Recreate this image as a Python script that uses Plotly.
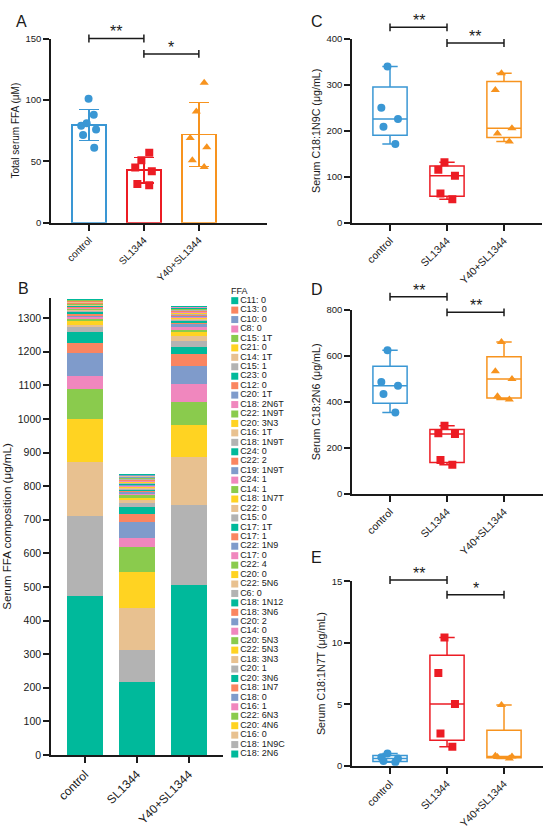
#!/usr/bin/env python3
"""Serum free fatty acid panels (A-E) rebuilt with Plotly."""

import numpy as np
import plotly.graph_objects as go

W, H = 550, 829
FONT = "Liberation Sans, Arial, sans-serif"
INK = "#1a1a1a"

# ---------------------------------------------------------------------------
# Data
# ---------------------------------------------------------------------------

groups = ["control", "SL1344", "Y40+SL1344"]
group_colors = ["#3A97D4", "#EC1C24", "#F7931E"]
group_symbols = ["circle", "square", "triangle-up"]

# A: total serum FFA (uM), one list per group
total_ffa = [
    [101, 88, 81, 76, 79, 71.5, 61],
    [57, 51, 45, 42, 31.5, 30.5],
    [114, 90.5, 69, 61.5, 51, 45.5],
]

# C, D, E: single fatty acids (ug/mL)
c18_1n9c = [
    [340, 250, 225.6, 209, 171.5],
    [131.7, 115.3, 102.5, 64, 51],
    [325, 289, 205.7, 194, 177],
]
c18_2n6 = [
    [624, 486, 470, 434, 354],
    [296, 263, 260, 147, 126],
    [660, 533, 499, 424, 410],
]
c18_1n7t = [
    [1.0, 0.7, 0.6, 0.4, 0.3],
    [10.43, 7.55, 5.02, 2.62, 1.55],
    [4.95, 0.82, 0.76, 0.72, 0.6],
]

# B: composition, listed from the bottom of the stack to the top
ffa_names = [
    "C18: 2N6", "C18: 1N9C", "C16: 0", "C20: 4N6", "C22: 6N3", "C16: 1",
    "C18: 0", "C18: 1N7", "C20: 3N6", "C20: 1", "C18: 3N3", "C22: 5N3",
    "C20: 5N3", "C14: 0", "C20: 2", "C18: 3N6", "C18: 1N12", "C6: 0",
    "C22: 5N6", "C20: 0", "C22: 4", "C17: 0", "C22: 1N9", "C17: 1",
    "C17: 1T", "C15: 0", "C22: 0", "C18: 1N7T", "C14: 1", "C24: 1",
    "C19: 1N9T", "C22: 2", "C24: 0", "C18: 1N9T", "C16: 1T", "C20: 3N3",
    "C22: 1N9T", "C18: 2N6T", "C20: 1T", "C12: 0", "C23: 0", "C15: 1",
    "C14: 1T", "C21: 0", "C15: 1T", "C8: 0", "C10: 0", "C13: 0", "C11: 0",
]
ffa_control = [
    472, 240, 160, 128, 90, 38, 68, 30, 32, 14, 8, 10, 7, 6, 6, 5, 5,
    2.5, 3, 2.5, 2, 2.5, 1.5, 1.5, 2, 1.8, 1.5, 1.6, 0.8, 1.2, 1.0, 0.8,
    1.0, 1.5, 0.7, 0.6, 0.6, 0.8, 0.6, 0.7, 0.6, 0.5, 0.5, 0.4, 0.5, 0.6,
    0.5, 0.3, 0.4,
]
ffa_sl1344 = [
    218, 94, 125, 108, 73, 27, 49, 22, 22, 12, 8, 7, 9, 5, 4, 3, 3,
    3, 3.5, 2.5, 2.5, 2, 2, 1.5, 2, 2, 1.8, 2, 1.2, 1.5, 1.2, 1.3,
    1.2, 2, 1, 1, 1, 1.2, 1, 1, 1, 0.8, 0.8, 0.6, 0.8, 0.8,
    0.6, 0.5, 0.6,
]
ffa_y40 = [
    506, 238, 144, 95, 68, 53, 53, 36, 22, 18, 13, 13, 6, 8, 8, 6, 5,
    3, 3, 2.5, 2.5, 2.5, 2, 2, 2, 2, 1.8, 1.8, 1.2, 1.5, 1.2, 1.2,
    1.2, 1.8, 0.8, 0.8, 0.8, 1, 0.8, 0.8, 0.7, 0.6, 0.6, 0.5, 0.6, 0.7,
    0.5, 0.4, 0.5,
]
ffa_palette = ["#00B99B", "#FA8561", "#7F9BCB", "#F087BE",
               "#8ACB4D", "#FFD322", "#E8C190", "#B3B3B3"]

# significance brackets: (from group, to group, level, stars)
sig_a = [(0, 1, 150, "**"), (1, 2, 137.5, "*")]
sig_c = [(0, 1, 425, "**"), (1, 2, 391, "**")]
sig_d = [(0, 1, 857, "**"), (1, 2, 789, "**")]
sig_e = [(0, 1, 15.1, "**"), (1, 2, 13.9, "*")]


# ---------------------------------------------------------------------------
# Helpers
# ---------------------------------------------------------------------------

def px_x(p):
    return p / W


def px_y(p):
    return 1 - p / H


def level_to_paper(level, ydom, yrange):
    frac = (level - yrange[0]) / (yrange[1] - yrange[0])
    return ydom[0] + frac * (ydom[1] - ydom[0])


def cat_axis(domain, xrange, anchor, size=10.5):
    return dict(
        domain=domain, range=xrange, anchor=anchor, type="category",
        showline=True, linecolor=INK, linewidth=1.5, mirror=False,
        ticks="outside", ticklen=6, tickwidth=1.5, tickcolor=INK,
        tickangle=-45, tickfont=dict(size=size, color=INK),
        showgrid=False, zeroline=False,
    )


def val_axis(domain, yrange, anchor, dtick, title, size=9.5, tsize=10.7):
    return dict(
        domain=domain, range=yrange, anchor=anchor, dtick=dtick,
        showline=True, linecolor=INK, linewidth=1.5,
        ticks="outside", ticklen=6, tickwidth=1.5, tickcolor=INK,
        tickfont=dict(size=size, color=INK),
        title=dict(text=title, font=dict(size=tsize, color=INK), standoff=4),
        showgrid=False, zeroline=False,
    )


fig = go.Figure()
shapes, annotations = [], []


def add_brackets(sig, xref, ydom, yrange):
    for a, b, level, stars in sig:
        yp = level_to_paper(level, ydom, yrange)
        line = dict(color=INK, width=1.5)
        shapes.append(dict(type="line", xref=xref, yref="paper",
                           x0=a, x1=b, y0=yp, y1=yp, line=line))
        for xe in (a, b):
            shapes.append(dict(type="line", xref=xref, yref="paper",
                               x0=xe, x1=xe, y0=yp - 4 / H, y1=yp + 4 / H,
                               line=line))
        annotations.append(dict(x=(a + b) / 2, xref=xref, y=yp - 4 / H,
                                yref="paper", yanchor="bottom", text=stars,
                                showarrow=False,
                                font=dict(size=16, color=INK)))


def add_boxes(data, xa, ya):
    for g, c, s, vals in zip(groups, group_colors, group_symbols, data):
        fig.add_trace(go.Box(
            x=[g] * len(vals), y=vals, xaxis=xa, yaxis=ya,
            boxpoints="all", jitter=0.6, pointpos=0, width=0.6,
            whiskerwidth=0.45, quartilemethod="exclusive",
            fillcolor="white", line=dict(color=c, width=1.5),
            marker=dict(color=c, symbol=s, size=8),
        ))


# ---------------------------------------------------------------------------
# Panel geometry (pixels in the 550x829 page)
# ---------------------------------------------------------------------------

dom = {
    "A": ([px_x(51), px_x(267)], [px_y(220), px_y(33)]),
    "B": ([px_x(51), px_x(222.5)], [px_y(760), px_y(296.2)]),
    "C": ([px_x(352), px_x(542)], [px_y(220), px_y(33.3)]),
    "D": ([px_x(352), px_x(543)], [px_y(495), px_y(308.3)]),
    "E": ([px_x(352), px_x(543)], [px_y(771), px_y(583.7)]),
}
rng_a, rng_b, rng_c, rng_d, rng_e = [0, 150], [0, 1360], [0, 400], [0, 800], [0, 15]

# ---- A: mean +/- SD bars with points ----
for g, c, s, vals in zip(groups, group_colors, group_symbols, total_ffa):
    arr = np.array(vals, dtype=float)
    fig.add_trace(go.Bar(
        x=[g], y=[arr.mean()], width=0.62, xaxis="x", yaxis="y",
        marker=dict(color="white", line=dict(color=c, width=1.5)),
        error_y=dict(type="data", array=[arr.std(ddof=1)], color=c,
                     thickness=1.5, width=10),
    ))
for g, c, s, vals in zip(groups, group_colors, group_symbols, total_ffa):
    fig.add_trace(go.Box(
        x=[g] * len(vals), y=vals, xaxis="x", yaxis="y",
        boxpoints="all", jitter=0.6, pointpos=0, width=0.62,
        fillcolor="rgba(0,0,0,0)",
        line=dict(width=0, color="rgba(0,0,0,0)"),
        marker=dict(color=c, symbol=s, size=8),
    ))

# ---- B: stacked composition ----
n_ffa = len(ffa_names)
ffa_colors = [ffa_palette[(n_ffa - 1 - i) % len(ffa_palette)] for i in range(n_ffa)]
for i, name in enumerate(ffa_names):
    fig.add_trace(go.Bar(
        x=groups, y=[ffa_control[i], ffa_sl1344[i], ffa_y40[i]], name=name,
        width=0.69, xaxis="x2", yaxis="y2",
        marker=dict(color=ffa_colors[i], line=dict(width=0)),
    ))

# hand-made legend for B (Plotly's own legend cannot pack 49 rows this tight)
fig.add_trace(go.Scatter(
    x=[0] * n_ffa, y=ffa_names, text=ffa_names, mode="markers+text",
    textposition="middle right", textfont=dict(size=9, color=INK),
    marker=dict(symbol="square", size=7, color=ffa_colors),
    xaxis="x6", yaxis="y6", cliponaxis=False,
))

# ---- C, D, E: box plots ----
add_boxes(c18_1n9c, "x3", "y3")
add_boxes(c18_2n6, "x4", "y4")
add_boxes(c18_1n7t, "x5", "y5")

add_brackets(sig_a, "x", dom["A"][1], rng_a)
add_brackets(sig_c, "x3", dom["C"][1], rng_c)
add_brackets(sig_d, "x4", dom["D"][1], rng_d)
add_brackets(sig_e, "x5", dom["E"][1], rng_e)

# panel letters (placed by the centre of the capital)
for letter, xp, cap_mid in [("A", 14, 15), ("B", 16, 286), ("C", 309, 15),
                            ("D", 309, 287), ("E", 309, 559)]:
    annotations.append(dict(text=letter, x=px_x(xp), y=px_y(cap_mid + 1),
                            xref="paper", yref="paper", xanchor="left",
                            yanchor="middle", showarrow=False,
                            font=dict(size=16, color=INK)))
annotations.append(dict(text="FFA", x=px_x(229), y=px_y(289), xref="paper",
                        yref="paper", xanchor="left", yanchor="middle",
                        showarrow=False, font=dict(size=9, color=INK)))

# ---------------------------------------------------------------------------
# Layout
# ---------------------------------------------------------------------------

fig.update_layout(
    width=W, height=H,
    margin=dict(l=0, r=0, t=0, b=0),
    paper_bgcolor="white", plot_bgcolor="white",
    font=dict(family=FONT, color=INK),
    barmode="stack", boxmode="overlay", showlegend=False,
    xaxis=cat_axis(dom["A"][0], [-0.69, 3.24], "y", size=10),
    yaxis=val_axis(dom["A"][1], rng_a, "x", 50, "Total serum FFA (μM)",
                   tsize=10),
    xaxis2=cat_axis(dom["B"][0], [-0.654, 2.65], "y2", size=12),
    yaxis2=val_axis(dom["B"][1], rng_b, "x2", 100,
                    "Serum FFA composition (μg/mL)", size=10.5, tsize=11.6),
    xaxis3=cat_axis(dom["C"][0], [-0.667, 2.667], "y3"),
    yaxis3=val_axis(dom["C"][1], rng_c, "x3", 100, "Serum C18:1N9C (μg/mL)"),
    xaxis4=cat_axis(dom["D"][0], [-0.667, 2.684], "y4"),
    yaxis4=val_axis(dom["D"][1], rng_d, "x4", 200, "Serum C18:2N6 (μg/mL)"),
    xaxis5=cat_axis(dom["E"][0], [-0.667, 2.684], "y5"),
    yaxis5=val_axis(dom["E"][1], rng_e, "x5", 5, "Serum C18:1N7T (μg/mL)"),
    xaxis6=dict(domain=[px_x(230), px_x(330)], range=[-0.05, 1],
                anchor="y6", visible=False),
    yaxis6=dict(domain=[px_y(763.8), px_y(294.2)], range=[-0.5, n_ffa - 0.5],
                type="category", categoryorder="array",
                categoryarray=ffa_names, anchor="x6", visible=False),
    shapes=shapes,
    annotations=annotations,
)

# drop the browser's default body margin so the 550x829 figure fills the page
fig.write_html("out.html",
               config={"displayModeBar": False},
               post_script="document.body.style.margin='0';"
                           "document.body.style.overflow='hidden';")
